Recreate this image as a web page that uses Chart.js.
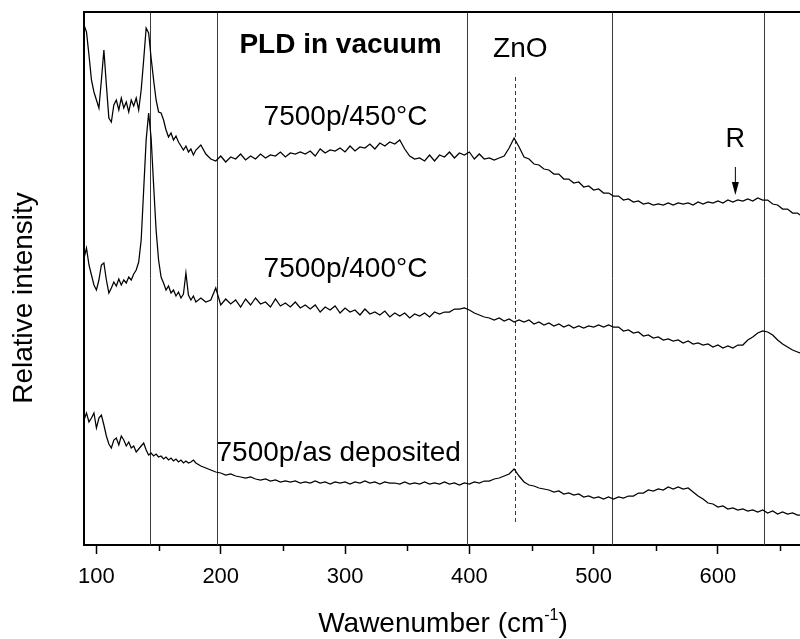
<!DOCTYPE html>
<html>
<head>
<meta charset="utf-8">
<script src="https://cdn.jsdelivr.net/npm/chart.js@4.4.1/dist/chart.umd.min.js"></script>
<style>
html, body { margin: 0; padding: 0; background: #fff; overflow: hidden; }
</style>
</head>
<body>
<canvas id="chart" width="800" height="639"></canvas>
<script>
// Raman shift grid (cm-1)
const wavenumbers = [
  90, 92, 94, 96, 98, 100, 102, 104, 106, 108,
  110, 112, 114, 116, 118, 120, 122, 124, 126, 128,
  130, 132, 134, 136, 138, 140, 142, 144, 146, 148,
  150, 152, 154, 156, 158, 160, 162, 164, 166, 168,
  170, 172, 174, 176, 178, 180,
  184, 188, 192, 196, 200, 204, 208, 212, 216, 220,
  224, 228, 232, 236, 240, 244, 248, 252, 256, 260,
  264, 268, 272, 276, 280, 284, 288, 292, 296, 300,
  304, 308, 312, 316, 320, 324, 328, 332, 336, 340,
  344, 348, 352, 356, 360, 364, 368, 372, 376, 380,
  384, 388, 392, 396, 400, 404, 408, 412, 416, 420,
  424, 428, 432, 436, 440, 444, 448, 452, 456, 460,
  464, 468, 472, 476, 480, 484, 488, 492, 496, 500,
  504, 508, 512, 516, 520, 524, 528, 532, 536, 540,
  544, 548, 552, 556, 560, 564, 568, 572, 576, 580,
  584, 588, 592, 596, 600, 604, 608, 612, 616, 620,
  624, 628, 632, 636, 640, 644, 648, 652, 656, 660,
  664, 666
];

// 7500p/450°C (offset, arbitrary units)
const spec450 = [
  520, 513, 490, 465, 453, 445, 437, 465, 495, 460,
  427, 423, 440, 445, 435, 447, 437, 443, 433, 445,
  439, 447, 435, 455, 485, 517, 512, 487, 465, 445,
  433, 432, 425, 415, 408, 412, 405, 409, 403, 399,
  395, 399, 393, 396, 390, 395,
  400, 391, 386, 384, 389, 383, 388, 386, 391, 385,
  389, 386, 391, 387, 390, 389, 393, 388, 392, 391,
  393, 391, 394, 389, 396, 392, 395, 394, 397, 393,
  399, 394, 398, 397, 401, 396, 402, 399, 403, 401,
  405, 396, 389, 386, 387, 384, 390, 384, 390, 388,
  393, 387, 392, 390, 393, 386, 391, 386, 387, 385,
  387, 389, 397, 407, 398, 388, 386, 381, 380, 376,
  375, 371, 371, 366, 366, 362, 363, 358, 359, 355,
  356, 352, 352, 349, 349, 345, 346, 343, 344, 341,
  342, 340, 341, 340, 342, 340, 342, 341, 342, 340,
  343, 341, 343, 342, 344, 342, 345, 343, 345, 344,
  346, 344, 347, 345, 345, 341, 340, 336, 336, 332,
  332, 330
];

// 7500p/400°C
const spec400 = [
  287, 297, 280, 270, 260, 255, 265, 280, 282, 265,
  252, 257, 263, 259, 266, 260, 265, 262, 268, 265,
  271, 275, 283, 305, 355, 405, 432, 407, 360, 315,
  285, 268, 262, 255, 259, 252, 255, 249, 253, 247,
  251, 272, 250, 245, 249, 243,
  247, 243, 245, 257, 240, 246, 241, 245, 238, 246,
  240, 247, 241, 243, 238, 246, 239, 242, 238, 243,
  237, 240, 236, 240, 233, 238, 235, 239, 232, 237,
  233, 235, 230, 236, 231, 233, 230, 234, 228, 232,
  229, 232, 227, 231, 229, 232, 228, 233, 231, 233,
  233, 236, 236, 237, 235, 232, 230, 228, 227, 225,
  227, 224, 226, 223, 225, 223, 225, 221, 223, 220,
  222, 219, 221, 218, 220, 217, 219, 217, 219, 218,
  220, 218, 220, 218, 218, 214, 215, 212, 213, 209,
  210, 207, 208, 205, 206, 204, 205, 202, 204, 201,
  202, 200, 201, 198, 200, 197, 199, 197, 200, 200,
  205, 208, 212, 214, 213, 210, 205, 201, 198, 195,
  193, 192
];

// 7500p/as deposited
const specAsDep = [
  125, 132, 123, 127, 132, 117, 127, 130, 120, 109,
  101, 97, 105, 107, 100, 109, 105, 99, 103, 97,
  99, 93, 96, 99, 102, 95, 90, 92, 89, 91,
  88, 89, 86, 88, 85, 87, 84, 86, 83, 85,
  82, 84, 82, 83, 85, 82,
  79, 77, 75, 73, 72, 70, 71, 69, 68, 67,
  68, 66, 65, 66, 64, 65, 63, 64, 63, 64,
  62, 63, 62, 64, 62, 63, 61, 63, 62, 63,
  61, 63, 62, 64, 62, 63, 61, 63, 62, 62,
  61, 63, 61, 62, 61, 63, 61, 62, 61, 63,
  61, 62, 60, 62, 61, 63, 62, 64, 64, 66,
  67, 69, 71, 76, 69, 63, 60, 59, 57, 56,
  55, 53, 54, 51, 52, 50, 51, 48, 49, 47,
  48, 46, 48, 46, 48, 47, 49, 49, 52, 52,
  55, 54, 56, 55, 58, 56, 58, 56, 57, 53,
  49, 46, 42, 41, 38, 39, 36, 37, 35, 36,
  34, 35, 33, 35, 32, 34, 31, 33, 31, 32,
  30, 30
];

const xTicks = [100, 200, 300, 400, 500, 600];
const xMinorTicks = [150, 250, 350, 450, 550, 650];
const bandLines = [143, 197, 398, 515, 637];
const znoLine = 437;
const arrowAt = 614;

const FONT = '"Liberation Sans", Arial, sans-serif';

function toPoints(ys) {
  return wavenumbers.map((x, i) => ({ x: x, y: ys[i] }));
}

function lineSet(ys) {
  return {
    data: toPoints(ys),
    borderColor: '#000',
    borderWidth: 1.25,
    pointRadius: 0,
    tension: 0,
    fill: false
  };
}

// extra drawing: marker lines, labels, titles
const annotate = {
  id: 'annotate',
  beforeDatasetsDraw(chart) {
    const { ctx, chartArea: a, scales: { x, y } } = chart;
    ctx.save();
    ctx.strokeStyle = '#3a3a3a';
    ctx.lineWidth = 1;
    bandLines.forEach(v => {
      const px = Math.round(x.getPixelForValue(v)) + 0.5;
      ctx.beginPath();
      ctx.moveTo(px, a.top);
      ctx.lineTo(px, a.bottom);
      ctx.stroke();
    });
    // ZnO dashed marker
    ctx.setLineDash([4, 3]);
    const zx = Math.round(x.getPixelForValue(znoLine)) + 0.5;
    ctx.beginPath();
    ctx.moveTo(zx, y.getPixelForValue(468));
    ctx.lineTo(zx, y.getPixelForValue(22));
    ctx.stroke();
    ctx.restore();
  },
  afterDraw(chart) {
    const { ctx, chartArea: a, scales: { x, y } } = chart;
    ctx.save();
    ctx.fillStyle = '#000';
    ctx.strokeStyle = '#000';

    // top frame line
    ctx.lineWidth = 2;
    ctx.beginPath();
    ctx.moveTo(a.left - 1, a.top);
    ctx.lineTo(a.right, a.top);
    ctx.stroke();

    // minor ticks
    ctx.lineWidth = 1.5;
    xMinorTicks.forEach(v => {
      const px = Math.round(x.getPixelForValue(v)) + 0.5;
      ctx.beginPath();
      ctx.moveTo(px, a.bottom);
      ctx.lineTo(px, a.bottom + 6);
      ctx.stroke();
    });

    ctx.textBaseline = 'alphabetic';
    ctx.textAlign = 'left';
    ctx.font = 'bold 28px ' + FONT;
    ctx.fillText('PLD in vacuum', x.getPixelForValue(215), y.getPixelForValue(492));

    ctx.font = '28px ' + FONT;
    ctx.textAlign = 'center';
    ctx.fillText('ZnO', x.getPixelForValue(441), y.getPixelForValue(488));
    ctx.textAlign = 'left';
    ctx.fillText('7500p/450°C', x.getPixelForValue(234.5), y.getPixelForValue(420));
    ctx.fillText('7500p/400°C', x.getPixelForValue(234.5), y.getPixelForValue(268));
    ctx.fillText('7500p/as deposited', x.getPixelForValue(196.6), y.getPixelForValue(84));

    // R + arrow
    ctx.textAlign = 'center';
    ctx.font = '27px ' + FONT;
    const rx = x.getPixelForValue(arrowAt);
    ctx.fillText('R', rx, y.getPixelForValue(398));
    ctx.lineWidth = 1;
    const yTop = y.getPixelForValue(378), yTip = y.getPixelForValue(350);
    ctx.beginPath();
    ctx.moveTo(rx, yTop);
    ctx.lineTo(rx, yTip - 10);
    ctx.stroke();
    ctx.beginPath();
    ctx.moveTo(rx - 3.5, yTip - 13);
    ctx.lineTo(rx + 3.5, yTip - 13);
    ctx.lineTo(rx, yTip);
    ctx.closePath();
    ctx.fill();

    // x axis title with superscript
    const main = 'Wawenumber (cm', sup = '-1', tail = ')';
    ctx.font = '28px ' + FONT;
    const wMain = ctx.measureText(main).width;
    const wTail = ctx.measureText(tail).width;
    ctx.font = '16px ' + FONT;
    const wSup = ctx.measureText(sup).width;
    let tx = (a.left + a.right) / 2 - (wMain + wSup + wTail) / 2 + 1;
    ctx.textAlign = 'left';
    ctx.font = '28px ' + FONT;
    ctx.fillText(main, tx, 632);
    tx += wMain;
    ctx.font = '16px ' + FONT;
    ctx.fillText(sup, tx, 620);
    tx += wSup;
    ctx.font = '28px ' + FONT;
    ctx.fillText(tail, tx, 632);

    // y axis title
    ctx.translate(32, 298);
    ctx.rotate(-Math.PI / 2);
    ctx.textAlign = 'center';
    ctx.fillText('Relative intensity', 0, 0);
    ctx.restore();
  }
};

new Chart(document.getElementById('chart').getContext('2d'), {
  type: 'line',
  data: {
    datasets: [lineSet(spec450), lineSet(spec400), lineSet(specAsDep)]
  },
  options: {
    responsive: false,
    animation: false,
    devicePixelRatio: 1,
    layout: { padding: { top: 12, right: 0, left: 0, bottom: 0 } },
    plugins: {
      legend: { display: false },
      tooltip: { enabled: false }
    },
    scales: {
      x: {
        type: 'linear',
        min: 90,
        max: 666,
        afterBuildTicks: s => { s.ticks = xTicks.map(v => ({ value: v })); },
        afterFit: s => { s.height = 94; },
        ticks: {
          color: '#000',
          font: { family: FONT, size: 22 },
          padding: 10,
          maxRotation: 0,
          autoSkip: false
        },
        grid: {
          drawOnChartArea: false,
          tickLength: 9,
          tickColor: '#000',
          tickWidth: 1.5
        },
        border: { color: '#000', width: 2 }
      },
      y: {
        min: 0,
        max: 533,
        afterFit: s => { s.width = 84; },
        ticks: { display: false },
        grid: { drawOnChartArea: false, drawTicks: false },
        border: { color: '#000', width: 2 }
      }
    }
  },
  plugins: [annotate]
});
</script>
</body>
</html>
